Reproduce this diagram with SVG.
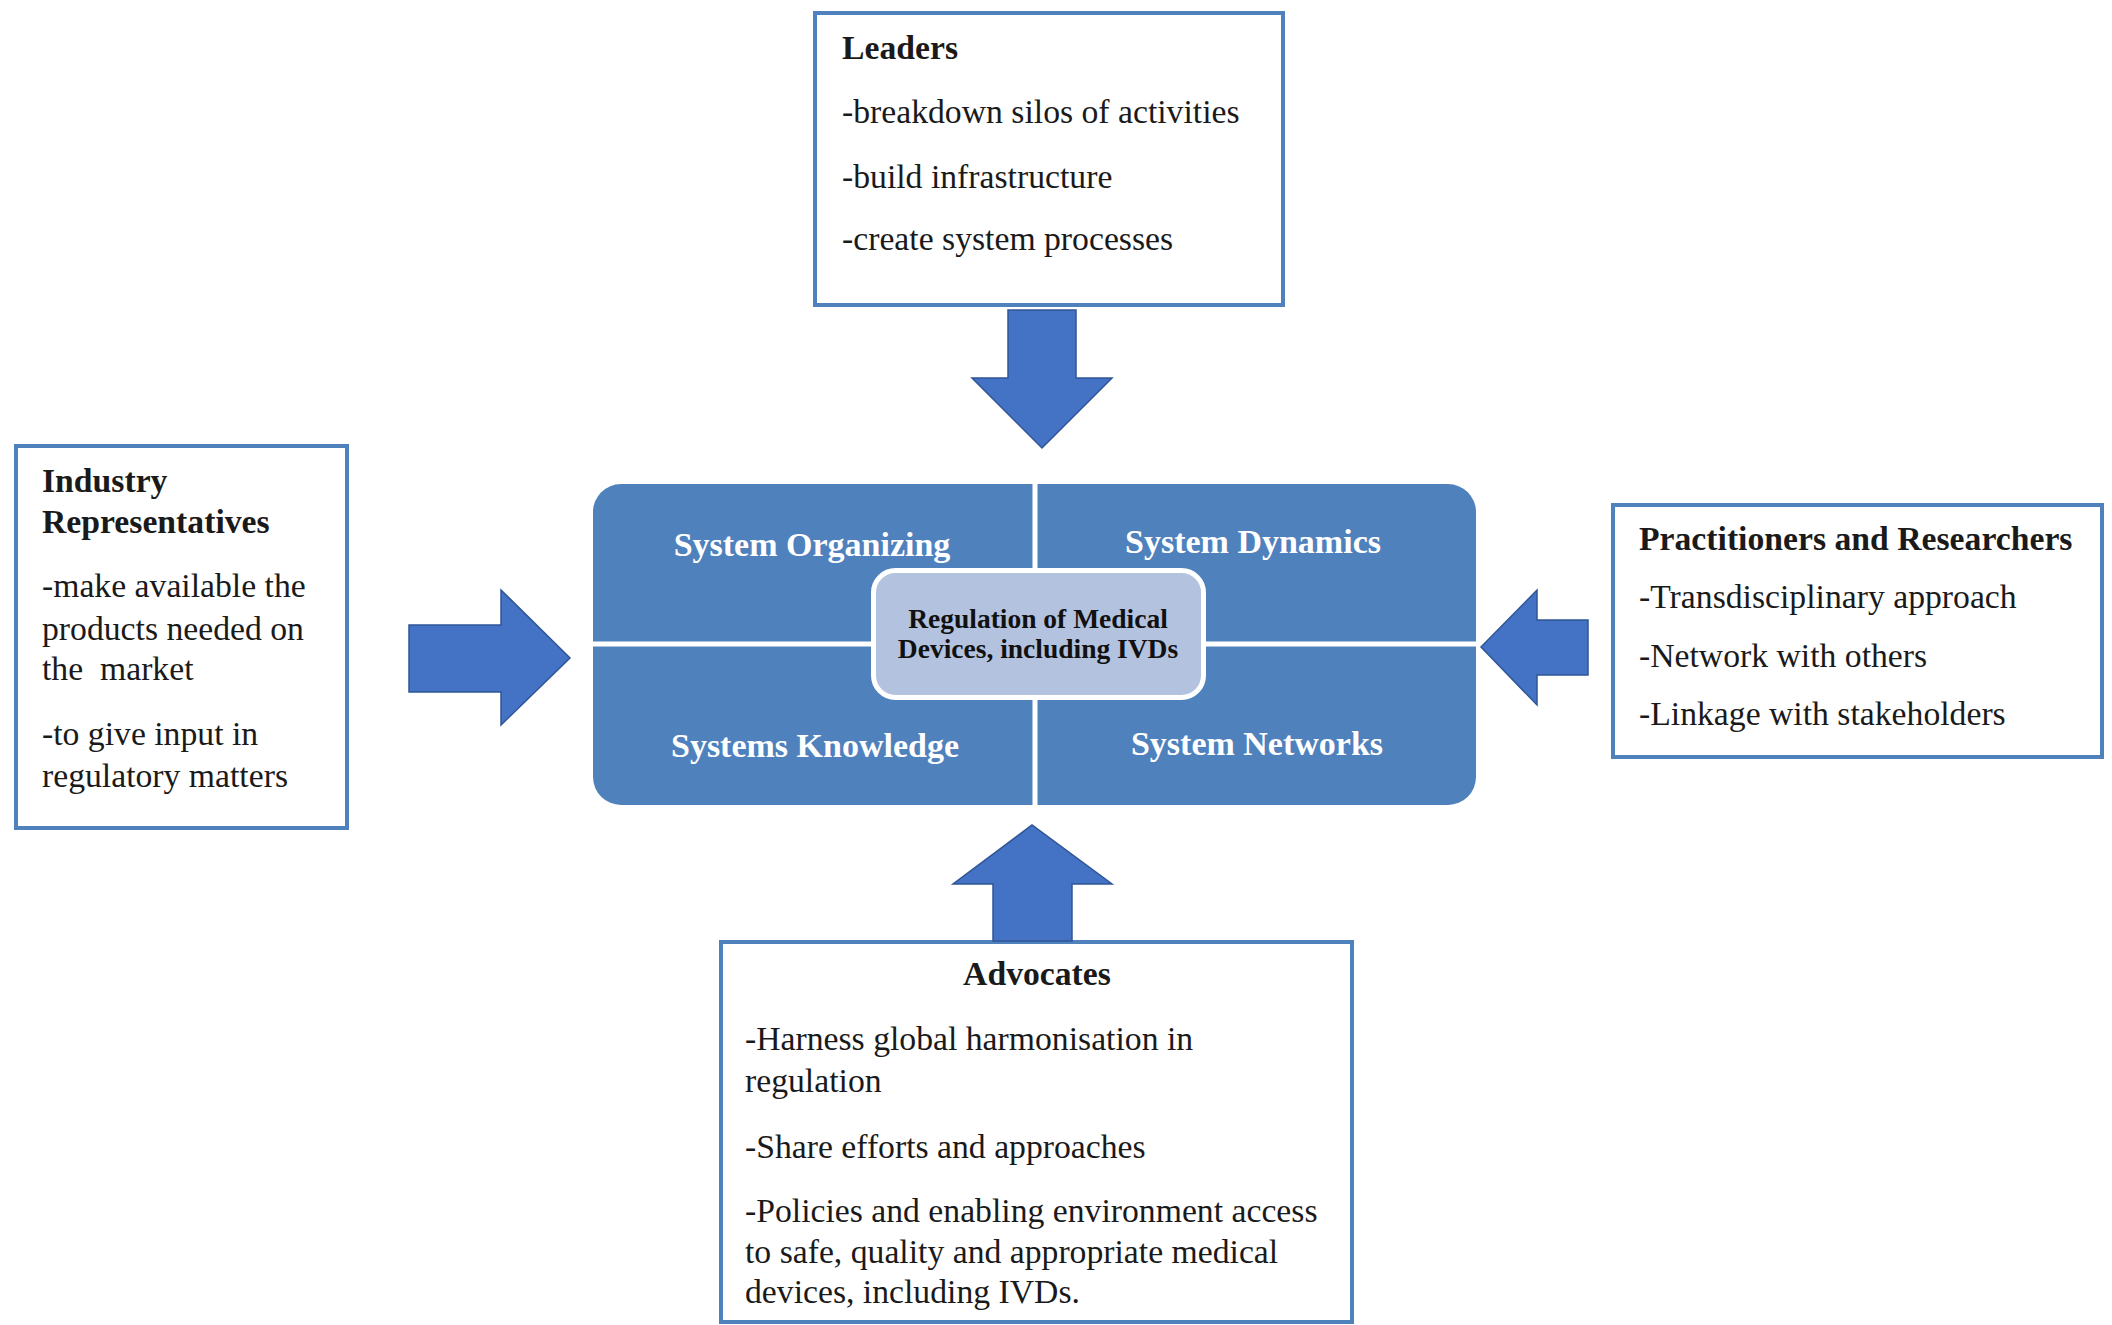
<svg xmlns="http://www.w3.org/2000/svg" width="2112" height="1325" viewBox="0 0 2112 1325">
<style>
.box{fill:#ffffff;stroke:#4f81bd;stroke-width:4}
.t{font-family:"Liberation Serif","Times New Roman",serif;font-size:33.7px;fill:#1a1a1a}
.b{font-weight:bold}
.w{font-family:"Liberation Serif","Times New Roman",serif;font-size:34px;font-weight:bold;fill:#ffffff;text-anchor:middle}
.c{font-family:"Liberation Serif","Times New Roman",serif;font-size:27.5px;font-weight:bold;fill:#111111;text-anchor:middle}
.arrow{fill:#4472c4;stroke:#2f5597;stroke-width:1.5}
</style>
<rect x="0" y="0" width="2112" height="1325" fill="#ffffff"/>

<g id="center">
<rect x="593" y="484" width="883" height="321" rx="28" ry="28" fill="#4f81bd"/>
<line x1="1035" y1="484" x2="1035" y2="805" stroke="#ffffff" stroke-width="5"/>
<line x1="593" y1="644" x2="1476" y2="644" stroke="#ffffff" stroke-width="5"/>
<text class="w" x="812" y="556">System Organizing</text>
<text class="w" x="1253" y="553">System Dynamics</text>
<text class="w" x="815" y="757">Systems Knowledge</text>
<text class="w" x="1257" y="755">System Networks</text>
<rect x="873.5" y="570.5" width="330" height="127" rx="22" ry="22" fill="#b3c3df" stroke="#ffffff" stroke-width="5"/>
<text class="c" x="1038" y="628">Regulation of Medical</text>
<text class="c" x="1038" y="658">Devices, including IVDs</text>
</g>

<g id="leaders">
<rect class="box" x="815" y="13" width="468" height="292"/>
<text class="t b" x="842" y="59">Leaders</text>
<text class="t" x="842" y="123">-breakdown silos of activities</text>
<text class="t" x="842" y="188">-build infrastructure</text>
<text class="t" x="842" y="250">-create system processes</text>
</g>

<g id="industry">
<rect class="box" x="16" y="446" width="331" height="382"/>
<text class="t b" x="42" y="492">Industry</text>
<text class="t b" x="42" y="533">Representatives</text>
<text class="t" x="42" y="597">-make available the</text>
<text class="t" x="42" y="640">products needed on</text>
<text class="t" x="42" y="680" xml:space="preserve">the  market</text>
<text class="t" x="42" y="745">-to give input in</text>
<text class="t" x="42" y="787">regulatory matters</text>
</g>

<g id="practitioners">
<rect class="box" x="1613" y="505" width="489" height="252"/>
<text class="t b" x="1639" y="550">Practitioners and Researchers</text>
<text class="t" x="1639" y="608">-Transdisciplinary approach</text>
<text class="t" x="1639" y="667">-Network with others</text>
<text class="t" x="1639" y="725">-Linkage with stakeholders</text>
</g>

<g id="advocates">
<rect class="box" x="721" y="942" width="631" height="380"/>
<text class="t b" x="1037" y="985" text-anchor="middle">Advocates</text>
<text class="t" x="745" y="1050">-Harness global harmonisation in</text>
<text class="t" x="745" y="1092">regulation</text>
<text class="t" x="745" y="1158">-Share efforts and approaches</text>
<text class="t" x="745" y="1222">-Policies and enabling environment access</text>
<text class="t" x="745" y="1263">to safe, quality and appropriate medical</text>
<text class="t" x="745" y="1303">devices, including IVDs.</text>
</g>

<g id="connectors">
<polygon class="arrow" points="1008,310 1076,310 1076,378 1112,378 1042,448 972,378 1008,378"/>
<polygon class="arrow" points="409,625 501,625 501,590 570,658 501,725 501,692 409,692"/>
<polygon class="arrow" points="1588,620 1537,620 1537,590 1481,647 1537,705 1537,675 1588,675"/>
<polygon class="arrow" points="993,941 993,884 953,884 1032,825 1112,884 1072,884 1072,941"/>
</g>
</svg>
